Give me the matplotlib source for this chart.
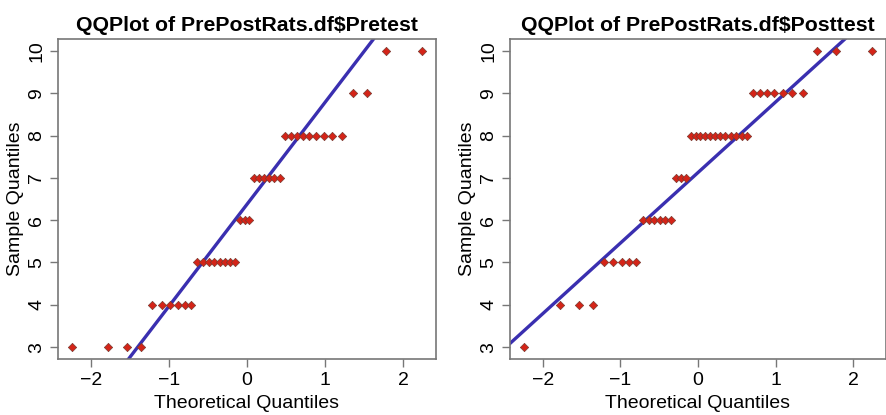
import matplotlib
matplotlib.use("Agg")
import matplotlib.pyplot as plt
import numpy as np
from statistics import NormalDist

plt.rcParams["font.family"] = ["Liberation Sans", "DejaVu Sans"]

# sorted scores, written as value -> count
score_values = [3, 4, 5, 6, 7, 8, 9, 10]
pretest_counts = [4, 6, 8, 3, 6, 9, 2, 2]
posttest_counts = [1, 3, 5, 6, 3, 12, 7, 3]

titles = ["QQPlot of PrePostRats.df\\$Pretest", "QQPlot of PrePostRats.df\\$Posttest"]
xticks = [-2, -1, 0, 1, 2]
yticks = [3, 4, 5, 6, 7, 8, 9, 10]

point_color = "#d42418"
line_color = "#3a2fb0"
frame_color = "#777777"


def ppoints(n):
    a = 3 / 8 if n <= 10 else 0.5
    return (np.arange(1, n + 1) - a) / (n + 1 - 2 * a)


def qq(ax, counts, title):
    y = np.repeat(score_values, counts)
    nd = NormalDist()
    x = np.array([nd.inv_cdf(p) for p in ppoints(len(y))])
    # reference line through the quartiles
    q1, q3 = np.quantile(y, [0.25, 0.75])
    z1, z3 = nd.inv_cdf(0.25), nd.inv_cdf(0.75)
    slope = (q3 - q1) / (z3 - z1)
    icpt = q1 - slope * z1
    ax.scatter(x, y, marker="D", s=18, color=point_color,
               edgecolors="#7a3a30", linewidths=0.5, zorder=3)
    xl = np.array([-3, 3])
    ax.plot(xl, icpt + slope * xl, color=line_color, lw=2.4, zorder=2)
    ext_x = 0.04 * (x.max() - x.min())
    ext_y = 0.04 * (y.max() - y.min())
    ax.set_xlim(x.min() - ext_x, x.max() + ext_x)
    ax.set_ylim(y.min() - ext_y, y.max() + ext_y)
    ax.set_xticks(xticks)
    ax.set_xticklabels(["\u22122", "\u22121", "0", "1", "2"])
    ax.set_yticks(yticks)
    for lab in ax.get_yticklabels():
        lab.set_rotation(90)
        lab.set_va("center")
    ax.tick_params(direction="out", length=6, width=1, color=frame_color,
                   labelsize=14, pad=3)
    for s in ax.spines.values():
        s.set_color(frame_color)
        s.set_linewidth(1.2)
    ax.set_title(title, fontsize=15.3, fontweight="bold", pad=6)
    ax.set_xlabel("Theoretical Quantiles", fontsize=14, labelpad=5)
    ax.set_ylabel("Sample Quantiles", fontsize=14, labelpad=3)


fig = plt.figure(figsize=(8.87, 4.15), dpi=100)
ax1 = fig.add_axes([58 / 887, 1 - 359 / 415, 378 / 887, 320 / 415])
ax2 = fig.add_axes([510 / 887, 1 - 359 / 415, 376 / 887, 320 / 415])
qq(ax1, pretest_counts, titles[0])
qq(ax2, posttest_counts, titles[1])
fig.savefig("out.png", dpi=100)
